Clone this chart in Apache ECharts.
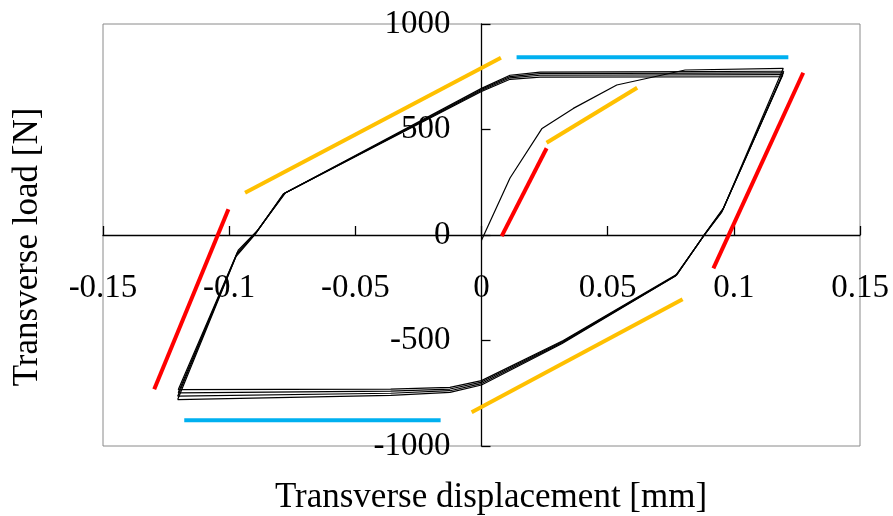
<!DOCTYPE html>
<html>
<head>
<meta charset="utf-8">
<script src="https://cdn.jsdelivr.net/npm/echarts@6/dist/echarts.min.js"></script>
<style>
html,body{margin:0;padding:0;background:#fff;}
#chart{width:893px;height:516px;}
</style>
</head>
<body>
<div id="chart"></div>
<script>
// ---- data (mm, N) ----
const xTickLabels = ['-0.15', '-0.1', '-0.05', '0', '0.05', '0.1', '0.15'];
const yTickLabels = ['-1000', '-500', '0', '500', '1000'];

// virgin (first) loading curve
const initX = [0, 0.0113, 0.024, 0.0364, 0.0536, 0.0807, 0.1196];
const initY = [-25, 270, 505, 600, 711, 782, 790];

// descending (unloading) branches, right -> left
const descX1 = [0.1196, 0.0960, 0.0888, 0.0776, 0.0324, 0, -0.0125, -0.036, -0.1202];
const descY1 = [790, 130, 10, -185, -500, -690, -722, -730, -733];
const descX2 = [0.1198, 0.0957, 0.0885, 0.0773, 0.0322, 0, -0.0125, -0.036, -0.1202];
const descY2 = [776, 122, 4, -190, -505, -697, -730, -740, -748];
const descX3 = [0.1196, 0.0954, 0.0882, 0.0770, 0.0320, 0, -0.0125, -0.036, -0.1204];
const descY3 = [768, 114, -2, -193, -510, -704, -738, -750, -764];
const descX4 = [0.1194, 0.0951, 0.0879, 0.0767, 0.0318, 0, -0.0125, -0.036, -0.1204];
const descY4 = [760, 106, -7, -196, -515, -711, -746, -760, -780];

// ascending (reloading) branches, left -> right
const ascX1 = [-0.1202, -0.0964, -0.0889, -0.0777, 0, 0.0113, 0.0232, 0.1198];
const ascY1 = [-733, -72, 20, 200, 695, 757, 772, 776];
const ascX2 = [-0.1202, -0.0967, -0.0892, -0.0780, 0, 0.0113, 0.0232, 0.1196];
const ascY2 = [-748, -82, 14, 198, 690, 751, 765, 768];
const ascX3 = [-0.1204, -0.0970, -0.0895, -0.0783, 0, 0.0113, 0.0232, 0.1194];
const ascY3 = [-764, -92, 8, 196, 685, 745, 757, 760];
const ascX4 = [-0.1204, -0.0973, -0.0898, -0.0786, 0, 0.0113, 0.0232, 0.1192];
const ascY4 = [-780, -102, 2, 194, 680, 738, 748, 750];

// reference lines [x1, y1, x2, y2]
const redLines = [
  [-0.1003, 122, -0.1297, -731],
  [0.0080, -5, 0.0258, 411],
  [0.1275, 769, 0.0919, -158]
];
const orangeLines = [
  [-0.0937, 200, 0.0077, 840],
  [0.0258, 437, 0.0617, 698],
  [-0.0039, -840, 0.0797, -305]
];
const blueLines = [
  [0.0139, 842, 0.1216, 842],
  [-0.1178, -878, -0.0162, -878]
];

// ---- build ----
const zip = (xs, ys) => xs.map((x, i) => [x, ys[i]]);
const serif = "'Liberation Serif','Times New Roman',serif";

const GRID = {left: 103, right: 33, top: 24, bottom: 70};
const W = 893, H = 516;
const plotW = W - GRID.left - GRID.right;
const plotH = H - GRID.top - GRID.bottom;
const X_MIN = -0.15, X_MAX = 0.15, Y_MIN = -1000, Y_MAX = 1000;
// move the axes so they cross at zero (labels follow the axis line)
const xAxisOffset = -plotH * (0 - Y_MIN) / (Y_MAX - Y_MIN);
const yAxisOffset = -plotW * (0 - X_MIN) / (X_MAX - X_MIN);

const curveSets = [
  zip(initX, initY),
  zip(descX1, descY1), zip(ascX1, ascY1),
  zip(descX2, descY2), zip(ascX2, ascY2),
  zip(descX3, descY3), zip(ascX3, ascY3),
  zip(descX4, descY4), zip(ascX4, ascY4)
];

const series = [];
curveSets.forEach(d => series.push({
  type: 'line', data: d, symbol: 'none', silent: true, z: 3,
  lineStyle: {color: '#000', width: 1.2}
}));
function addSegs(list, color) {
  list.forEach(s => series.push({
    type: 'line', data: [[s[0], s[1]], [s[2], s[3]]], symbol: 'none', silent: true, z: 2,
    lineStyle: {color: color, width: 4, cap: 'butt'}
  }));
}
addSegs(redLines, '#ff0000');
addSegs(orangeLines, '#ffc000');
addSegs(blueLines, '#00b0f0');

const chart = echarts.init(document.getElementById('chart'), null, {renderer: 'canvas'});
chart.setOption({
  animation: false,
  backgroundColor: '#fff',
  grid: Object.assign({show: true, borderColor: '#8a8a8a', borderWidth: 1, containLabel: false, outerBoundsMode: 'none'}, GRID),
  xAxis: {
    type: 'value', min: X_MIN, max: X_MAX, interval: 0.05, offset: xAxisOffset,
    axisLine: {onZero: false, lineStyle: {color: '#000', width: 1.3}},
    axisTick: {show: true, inside: true, length: 9, lineStyle: {color: '#000', width: 1.3}},
    axisLabel: {
      margin: 37, color: '#000', fontFamily: serif, fontSize: 33,
      showMinLabel: true, showMaxLabel: true, hideOverlap: false,
      formatter: (v, i) => xTickLabels[i]
    },
    splitLine: {show: false}
  },
  yAxis: {
    type: 'value', min: Y_MIN, max: Y_MAX, interval: 500, offset: yAxisOffset,
    axisLine: {onZero: false, lineStyle: {color: '#000', width: 1.3}},
    axisTick: {show: true, inside: true, length: 9, lineStyle: {color: '#000', width: 1.3}},
    axisLabel: {
      margin: 31, color: '#000', fontFamily: serif, fontSize: 33,
      showMinLabel: true, showMaxLabel: true, hideOverlap: false,
      formatter: (v, i) => yTickLabels[i]
    },
    splitLine: {show: false}
  },
  graphic: [
    {type: 'text', x: 491, y: 498, style: {text: 'Transverse displacement [mm]', font: '35px ' + serif, fill: '#000', textAlign: 'center', textVerticalAlign: 'middle'}},
    {type: 'text', x: 28, y: 247, rotation: Math.PI / 2, style: {text: 'Transverse load [N]', font: '35px ' + serif, fill: '#000', textAlign: 'center', textVerticalAlign: 'middle'}}
  ],
  series: series
});
</script>
</body>
</html>
